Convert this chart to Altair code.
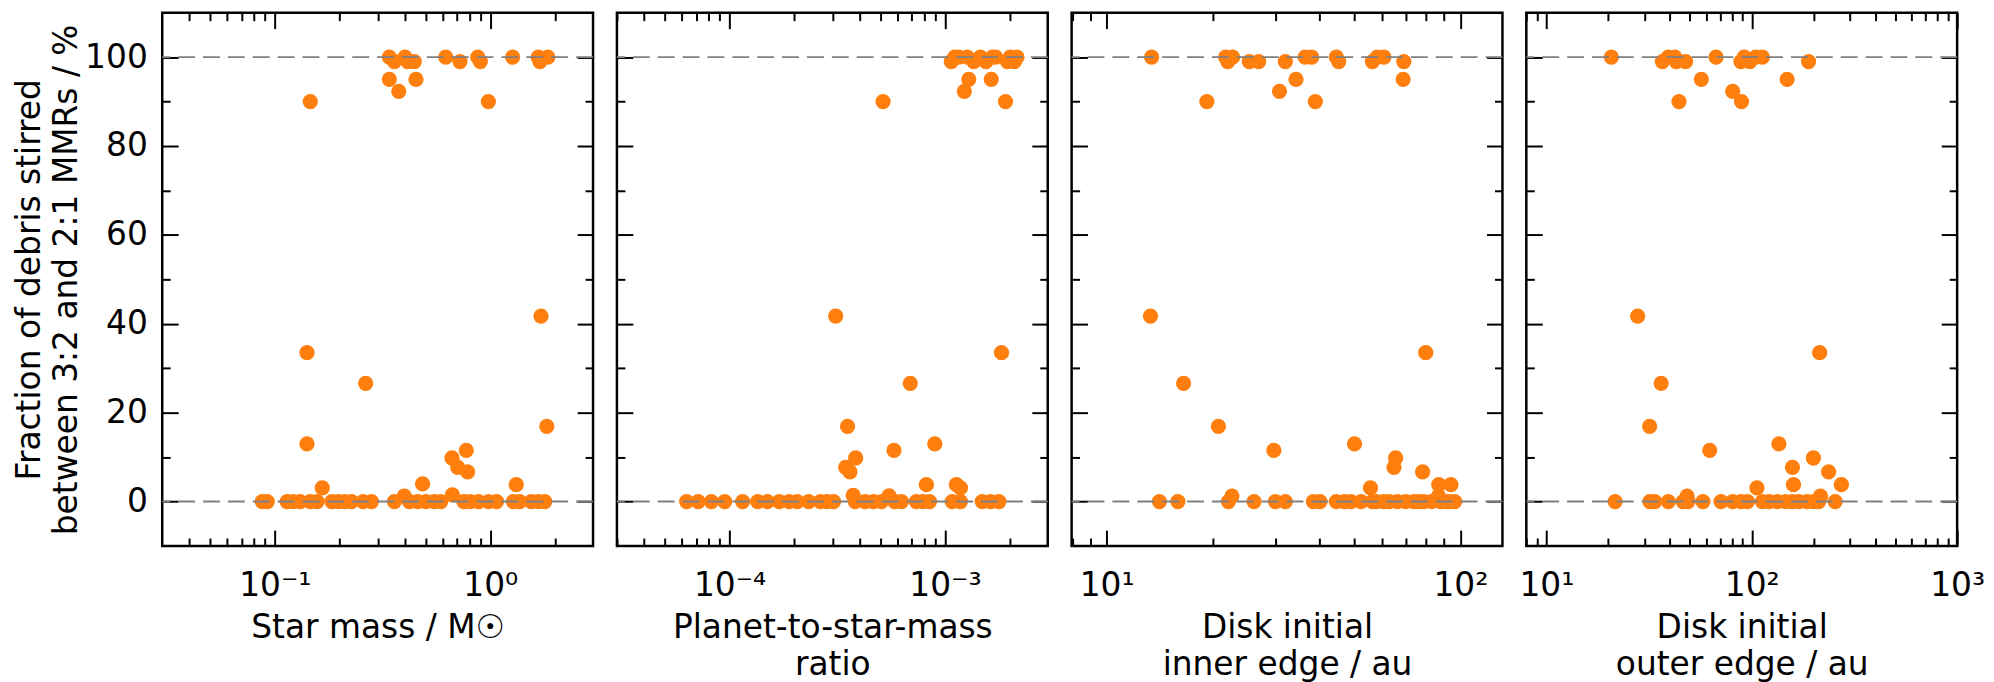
import math
import altair as alt
import pandas as pd

# ---------------- data ----------------
# Panel 1: star mass / Msun
star_mass = [0.340, 0.359, 0.402, 0.414, 0.444, 0.621, 0.723, 0.875, 0.899, 1.27, 1.67, 1.70, 1.85,
             0.340, 0.376, 0.452, 0.146, 0.98,
             0.141, 0.141, 0.264, 1.72, 1.83, 0.664, 0.706, 0.774, 0.785, 0.485, 0.166, 1.32,
             0.399, 0.667,
             0.0874, 0.0922, 0.114, 0.122, 0.131, 0.146, 0.157, 0.184, 0.197, 0.211, 0.227, 0.257,
             0.281, 0.359, 0.421, 0.460, 0.502, 0.548, 0.589, 0.754, 0.809, 0.883, 0.982, 1.07,
             1.28, 1.37, 1.55, 1.67, 1.79]
star_frac = [100, 99, 100, 99, 99, 100, 99, 100, 99, 100, 100, 99, 100,
             95, 92.3, 95, 90, 90,
             33.5, 13.0, 26.6, 41.7, 16.9, 9.8, 7.7, 11.5, 6.7, 4.0, 3.1, 3.8,
             1.2, 1.5,
             0, 0, 0, 0, 0, 0, 0, 0, 0, 0, 0, 0,
             0, 0, 0, 0, 0, 0, 0, 0, 0, 0, 0, 0,
             0, 0, 0, 0, 0]

# Panel 2: planet-to-star mass ratio
ratio = [1.07e-3, 1.11e-3, 1.16e-3, 1.27e-3, 1.36e-3, 1.46e-3, 1.55e-3, 1.66e-3, 1.72e-3, 1.95e-3,
         2.01e-3, 2.10e-3, 2.16e-3,
         1.29e-3, 1.23e-3, 1.64e-3, 5.16e-4, 1.91e-3,
         3.11e-4, 1.83e-3, 6.90e-4, 3.53e-4, 8.97e-4, 5.80e-4, 3.85e-4, 3.46e-4, 3.62e-4, 8.20e-4,
         1.13e-3, 1.18e-3,
         3.75e-4, 5.50e-4,
         6.32e-5, 7.15e-5, 8.23e-5, 9.49e-5, 1.15e-4, 1.35e-4, 1.50e-4, 1.70e-4, 1.89e-4, 2.06e-4,
         2.33e-4, 2.64e-4, 2.83e-4, 3.04e-4, 3.83e-4, 4.26e-4, 4.65e-4, 5.07e-4, 5.84e-4, 6.28e-4,
         7.36e-4, 7.89e-4, 8.48e-4, 1.08e-3, 1.18e-3, 1.49e-3, 1.63e-3, 1.78e-3]
ratio_frac = [99, 100, 100, 100, 99, 100, 99, 100, 100, 99,
              100, 99, 100,
              95, 92.3, 95, 90, 90,
              41.7, 33.5, 26.6, 16.9, 13.0, 11.5, 9.8, 7.7, 6.7, 3.8,
              3.8, 3.1,
              1.4, 1.3,
              0, 0, 0, 0, 0, 0, 0, 0, 0, 0,
              0, 0, 0, 0, 0, 0, 0, 0, 0, 0,
              0, 0, 0, 0, 0, 0, 0, 0]

# Panel 3: disk initial inner edge / au
inner = [13.4, 21.7, 22.7, 22.0, 25.3, 26.9, 32.0, 36.4, 38.0, 44.6, 45.3, 56.4, 58.2, 60.8, 69.2,
         34.3, 68.9, 30.8, 19.2, 38.9,
         13.3, 79.8, 16.5, 20.7, 50.2, 29.7, 65.6, 64.9, 78.2, 86.9, 94.0, 55.7,
         22.6, 86.7,
         14.1, 15.9, 22.1, 26.1, 30.0, 32.0, 38.4, 40.1, 44.6, 47.0, 49.1, 52.4, 56.4, 58.0,
         60.8, 63.0, 66.3, 70.0, 73.8, 76.0, 78.7, 83.0, 88.0, 91.4, 93.0, 96.4]
inner_frac = [100, 100, 100, 99, 99, 99, 99, 100, 100, 100, 99, 99, 100, 100, 99,
              95, 95, 92.3, 90, 90,
              41.7, 33.5, 26.6, 16.9, 13.0, 11.5, 9.8, 7.7, 6.7, 3.8, 3.8, 3.1,
              1.2, 1.2,
              0, 0, 0, 0, 0, 0, 0, 0, 0, 0, 0, 0, 0, 0,
              0, 0, 0, 0, 0, 0, 0, 0, 0, 0, 0, 0]

# Panel 4: disk initial outer edge / au
outer = [20.7, 36.7, 39.2, 42.2, 42.9, 47.6, 67.0, 88.5, 91.9, 97.8, 104.5, 112.6, 189.0,
         56.8, 148.6, 80.7, 44.2, 89.1,
         27.8, 214.0, 36.2, 31.8, 135.5, 62.4, 199.5, 157.8, 236.6, 273.0, 159.6, 105.9,
         48.4, 216.0,
         21.6, 31.9, 33.7, 39.2, 46.3, 48.9, 57.8, 70.8, 80.7, 88.5, 95.3, 112.6, 121.4, 133.1,
         146.0, 157.3, 169.5, 185.9, 200.1, 211.7, 254.7]
outer_frac = [100, 99, 100, 100, 99, 99, 100, 99, 100, 99, 100, 100, 99,
              95, 95, 92.3, 90, 90,
              41.7, 33.5, 26.6, 16.9, 13.0, 11.5, 9.8, 7.7, 6.7, 3.8, 3.8, 3.1,
              1.2, 1.2,
              0, 0, 0, 0, 0, 0, 0, 0, 0, 0, 0, 0, 0, 0,
              0, 0, 0, 0, 0, 0, 0]

ref_lines = [0, 100]
y_major = [0, 20, 40, 60, 80, 100]
y_minor = [10, 30, 50, 70, 90]
y_title = ["Fraction of debris stirred", "between 3:2 and 2:1 MMRs / %"]

# ---------------- styling ----------------
ORANGE = "#ff7f0e"
FONT = "DejaVu Sans"
FS = 33
MAJ, MIN = 16, 8
W, H = 433, 536
SUP = {-4: "⁻⁴", -3: "⁻³", -1: "⁻¹", 0: "⁰", 1: "¹", 2: "²", 3: "³"}


def exp_label_expr(values):
    e = "round(log(datum.value)/LN10)"
    s = ""
    for v in values:
        k = round(math.log10(v))
        s += f"{e} == {k} ? '10{SUP[k]}' : "
    return s + "''"


def axis(orient, vals, size, labels=False, title=None, label_expr=None, pad=None, tpad=None,
         tlh=None):
    kw = dict(orient=orient, values=vals, tickSize=size, offset=-size, labels=labels,
              grid=False, domain=False, ticks=True, tickColor="black", tickWidth=2,
              labelFlush=False, labelOverlap=False, title=title)
    if label_expr is not None:
        kw["labelExpr"] = label_expr
    if pad is not None:
        kw["labelPadding"] = pad
    if tpad is not None:
        kw["titlePadding"] = tpad
    if tlh is not None:
        kw["titleLineHeight"] = tlh
    return alt.Axis(**kw)


def make_panel(xs, ys, domain, major, minor, xtitle, show_y):
    df = pd.DataFrame({"x": xs, "y": ys})
    sx = alt.Scale(type="log", domain=domain, nice=False)
    sy = alt.Scale(domain=[-10, 110], nice=False, zero=False)
    lab = exp_label_expr(major)

    pts = alt.Chart(df).mark_circle(size=235, color=ORANGE, opacity=1).encode(
        x=alt.X("x:Q", scale=sx,
                axis=axis("bottom", major, MAJ, True, xtitle, lab, 24, 9, 37)),
        y=alt.Y("y:Q", scale=sy,
                axis=axis("left", y_major, MAJ, show_y, y_title if show_y else None,
                          None, 15, 1, 37)),
    )
    minor_bl = alt.Chart(df).mark_circle(opacity=0).encode(
        x=alt.X("x:Q", scale=sx, axis=axis("bottom", minor, MIN)),
        y=alt.Y("y:Q", scale=sy, axis=axis("left", y_minor, MIN)),
    )
    major_tr = alt.Chart(df).mark_circle(opacity=0).encode(
        x=alt.X("x:Q", scale=sx, axis=axis("top", major, MAJ)),
        y=alt.Y("y:Q", scale=sy, axis=axis("right", y_major, MAJ)),
    )
    minor_tr = alt.Chart(df).mark_circle(opacity=0).encode(
        x=alt.X("x:Q", scale=sx, axis=axis("top", minor, MIN)),
        y=alt.Y("y:Q", scale=sy, axis=axis("right", y_minor, MIN)),
    )
    rules = alt.Chart(pd.DataFrame({"y": ref_lines})).mark_rule(
        color="#808080", strokeWidth=2, strokeDash=[17, 8]
    ).encode(y=alt.Y("y:Q", scale=sy, axis=None))

    return alt.layer(pts, minor_bl, major_tr, minor_tr, rules).resolve_axis(
        x="independent", y="independent"
    ).properties(width=W, height=H)


def minors(decades, lo, hi):
    out = []
    for d in decades:
        for m in range(2, 10):
            v = m * 10.0 ** d
            if lo < v < hi:
                out.append(v)
    return out


p1 = make_panel(star_mass, star_frac, [0.03, 3.0], [0.1, 1.0],
                minors([-2, -1, 0], 0.03, 2.95), "Star mass / M☉", True)
p2 = make_panel(ratio, ratio_frac, [3e-5, 3e-3], [1e-4, 1e-3],
                minors([-5, -4, -3], 3e-5, 2.95e-3), ["Planet-to-star-mass", "ratio"], False)
p3 = make_panel(inner, inner_frac, [7.96, 131.5], [10, 100],
                minors([0, 1, 2], 7.96, 131), ["Disk initial", "inner edge / au"], False)
p4 = make_panel(outer, outer_frac, [7.98, 1000], [10, 100, 1000],
                minors([0, 1, 2], 7.98, 999), ["Disk initial", "outer edge / au"], False)

chart = alt.hconcat(p1, p2, p3, p4, spacing=24, bounds="flush").properties(
    padding={"left": 4, "top": 0, "right": 0, "bottom": 0}
).configure_view(
    stroke="black", strokeWidth=2.5
).configure_axis(
    labelFont=FONT, labelFontSize=FS, labelColor="black",
    titleFont=FONT, titleFontSize=FS, titleColor="black", titleFontWeight="normal",
)

chart.save("out.html", embed_options={"renderer": "svg", "actions": False})
